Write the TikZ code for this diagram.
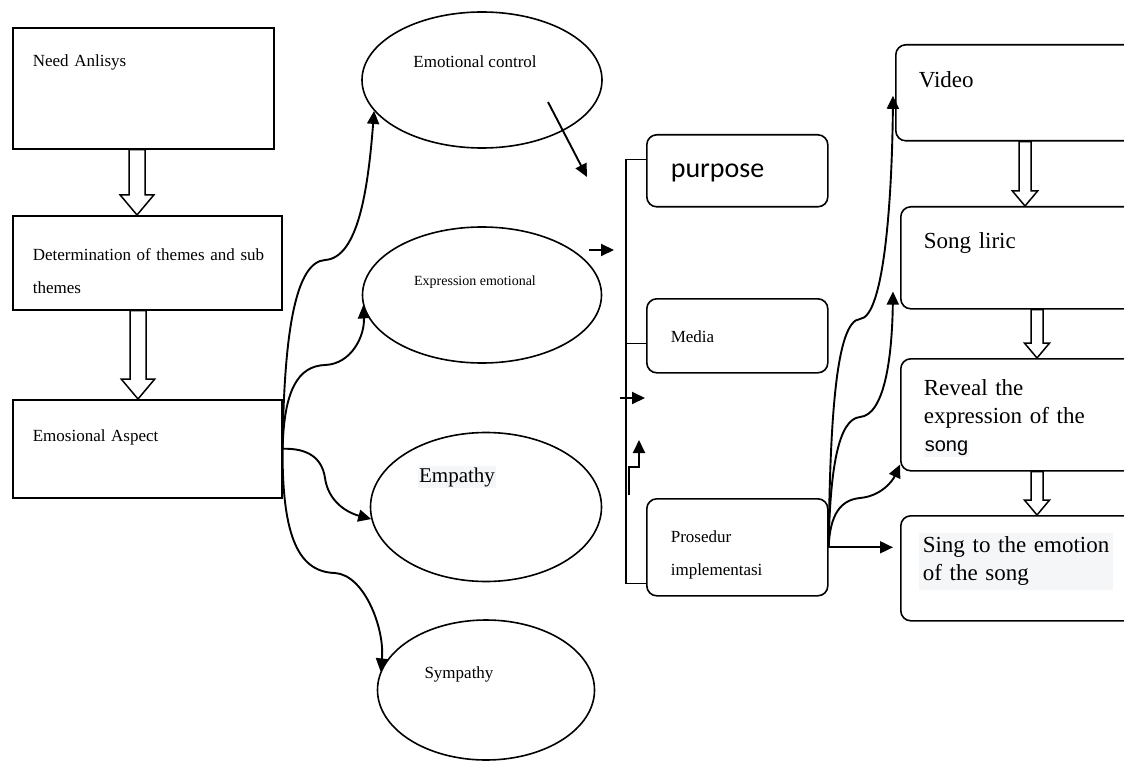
\documentclass[tikz,border=0pt]{standalone}
\usepackage{fontspec}
\setmainfont{Liberation Serif}
\newfontfamily\calib{Carlito}
\newfontfamily\arial{Liberation Sans}
\usepackage{tikz}
\usetikzlibrary{shapes.geometric, arrows.meta, calc}
\usepackage{xcolor}

\definecolor{hl}{RGB}{245,246,248}

% hollow block arrow: half shaft width, from, to
\newcommand{\fatarrow}[3]{%
  \draw[hollow] let \p1=(#2), \p2=(#3) in
    (\x1-#1pt,\y1) -- (\x1+#1pt,\y1) -- (\x1+#1pt,\y2+2.5*#1pt) -- (\x1+2.1*#1pt,\y2+2.5*#1pt)
    -- (\x1,\y2) -- (\x1-2.1*#1pt,\y2+2.5*#1pt) -- (\x1-#1pt,\y2+2.5*#1pt) -- cycle;}

\begin{document}
\begin{tikzpicture}[x=1pt, y=-1pt,
    box/.style={draw, line width=1.6pt, anchor=north west, align=left, inner xsep=20pt, inner ysep=0pt, font=\fontsize{17}{33}\selectfont},
    rbox/.style={box, rounded corners=10pt, inner xsep=24pt, text width=133pt},
    rbig/.style={box, rounded corners=10pt, inner xsep=23pt, text width=214pt, font=\fontsize{23}{28}\selectfont},
    oval/.style={draw, ellipse, line width=1.6pt, inner sep=0pt, font=\fontsize{17}{20}\selectfont},
    arrow/.style={-{Triangle[length=13pt, width=12pt]}, line width=1.9pt},
    hollow/.style={line width=1.5pt, fill=white},
    bracket/.style={line width=1.3pt}
]
\useasboundingbox (0,0) rectangle (1124,762);
\clip (0,0) rectangle (1124,762);

% Left column
\node[box, text width=221pt, text height=39pt, text depth=82pt] (need) at (12,27) {Need Anlisys};
\node[box, text width=229pt, text height=45pt, text depth=49pt] (theme) at (12,215) {\mbox{Determination of themes and sub}\\themes};
\node[box, text width=229pt, text height=42pt, text depth=56pt] (emo) at (12,399) {Emosional Aspect};

\fatarrow{8}{137,0 |- need.south}{theme.north}
\fatarrow{8}{138,0 |- theme.south}{emo.north}

% Aspects
\node[oval, minimum width=240pt, minimum height=136pt, text height=12pt, text depth=36pt] (ctrl) at (482,80) {Emotional control\hspace*{14pt}};
\node[oval, minimum width=239pt, minimum height=136pt, text height=10pt, text depth=30pt, font=\fontsize{14}{16}\selectfont] (expr) at (482,295) {Expression emotional\hspace*{14pt}};
\node[oval, minimum width=231pt, minimum height=149pt, text height=16pt, text depth=66pt, font=\fontsize{21}{24}\selectfont] (emp) at (486,507) {{\setlength{\fboxsep}{1pt}\colorbox{hl}{Empathy}}\hspace*{58pt}};
\node[oval, minimum width=217pt, minimum height=140pt, text height=12pt, text depth=36pt] (sym) at (486,690) {Sympathy\hspace*{54pt}};

\draw[arrow] (emo.east) .. controls (284,330) and (296,262) .. (325,260) .. controls (358,258) and (368,190) .. (ctrl.196);
\draw[arrow] (emo.east) .. controls (284,390) and (298,366) .. (325,365) .. controls (352,364) and (365,335) .. (expr.185);
\draw[arrow] (emo.east) .. controls (308,448) and (322,458) .. (325,478) .. controls (328,500) and (345,512) .. (emp.186);
\draw[arrow] (emo.east) .. controls (282,540) and (300,572) .. (335,573) .. controls (365,575) and (385,630) .. (sym.170);

% Stub arrows to the bracket
\coordinate (ctrlout) at (548,102);
\coordinate (ctrlin) at (587,177);
\coordinate (exprout) at (589,250);
\coordinate (exprin) at (614,250);
\coordinate (empout) at (620,398);
\coordinate (empin) at (645,398);
\coordinate (symout) at (629,495);
\draw[arrow] (ctrlout) -- (ctrlin);
\draw[arrow] (exprout) -- (exprin);
\draw[arrow] (empout) -- (empin);
\draw[arrow] (symout) -- ++(0,-28) -- ++(10,0) -- ++(0,-27);

% Middle boxes
\node[rbox, text height=43pt, text depth=29pt, font=\calib\fontsize{28}{30}\selectfont] (purpose) at (646,134) {purpose};
\node[rbox, text height=44pt, text depth=30pt] (media) at (646,298) {Media};
\node[rbox, text height=44pt, text depth=53pt] (prose) at (646,498) {Prosedur\\implementasi};

\draw[bracket] ([yshift=11pt]purpose.west) -- ++(-20,0) |- ([yshift=13pt]prose.south west);
\draw[bracket] ([yshift=-8pt]media.west) -- ++(-20,0);

% Right column
\node[rbig, text height=43pt, text depth=53pt] (video) at (895,44) {Video};
\node[rbig, text height=42pt, text depth=60pt] (song) at (900,206) {Song liric};
\node[rbig, text height=37pt, text depth=75pt] (reveal) at (900,358) {Reveal the\\expression of the\\{\setlength{\fboxsep}{1pt}\colorbox{hl}{\arial\fontsize{20}{28}\selectfont song}}};
\node[rbig, inner xsep=18pt, text width=224pt, text height=37pt, text depth=68pt] (sing) at (900,515) {{\setlength{\fboxsep}{4pt}\colorbox{hl}{\parbox[t]{186pt}{\mbox{Sing to the emotion}\\of the song}}}};

\fatarrow{6}{1025,0 |- video.south}{song.north}
\fatarrow{6}{1037,0 |- song.south}{reveal.north}
\fatarrow{6}{1037,0 |- reveal.south}{sing.north}

\draw[arrow] (prose.east) .. controls (830,420) and (836,321) .. (860,319) .. controls (884,317) and (892,200) .. ([shift={(-2pt,-3pt)}]video.west);
\draw[arrow] (prose.east) .. controls (830,470) and (838,419) .. (860,417) .. controls (884,415) and (892,360) .. ([shift={(-7pt,18pt)}]song.south west);
\draw[arrow] (prose.east) .. controls (830,515) and (840,500) .. (860,498) .. controls (882,496) and (893,480) .. ([yshift=7pt]reveal.south west);
\draw[arrow, shorten >=7pt] (prose.east) -- (prose.east -| sing.west);

\end{tikzpicture}
\end{document}
